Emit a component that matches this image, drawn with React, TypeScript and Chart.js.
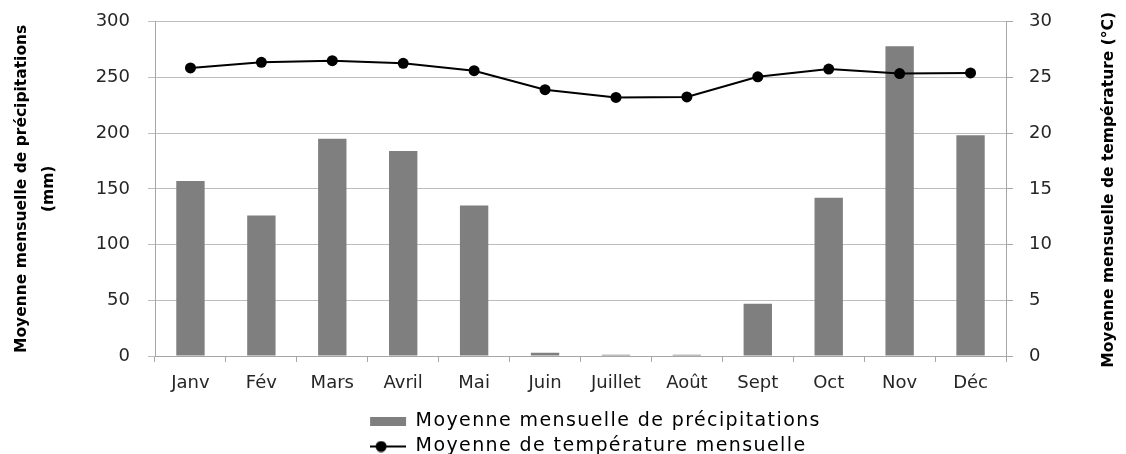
import React, { useEffect, useRef } from "react";
import { Chart, registerables } from "chart.js";

Chart.register(...registerables);

const months = ["Janv", "Fév", "Mars", "Avril", "Mai", "Juin", "Juillet", "Août", "Sept", "Oct", "Nov", "Déc"];
const precipitation = [157, 126, 195, 184, 135, 3, 1.2, 1.2, 47, 142, 278, 198];
const temperature = [25.85, 26.35, 26.5, 26.27, 25.6, 23.9, 23.2, 23.25, 25.05, 25.75, 25.35, 25.4];
const seriesLabels = ["Moyenne mensuelle de précipitations", "Moyenne de température mensuelle"];
const leftAxisTitle = ["Moyenne mensuelle de précipitations", "(mm)"];
const rightAxisTitle = "Moyenne mensuelle de température (°C)";

const FONT = "DejaVu Sans";
const GRID = "#bdbdbd";
const AXIS = "#a6a6a6";
const BAR = "#7f7f7f";

function makeLineMarker(): HTMLCanvasElement {
  const c = document.createElement("canvas");
  c.width = 36;
  c.height = 12;
  const g = c.getContext("2d")!;
  g.strokeStyle = "#000";
  g.lineWidth = 2;
  g.beginPath();
  g.moveTo(0, 6);
  g.lineTo(36, 6);
  g.stroke();
  g.fillStyle = "#000";
  g.beginPath();
  g.arc(11, 6, 5.5, 0, Math.PI * 2);
  g.fill();
  return c;
}

const rightTitlePlugin = {
  id: "rightTitle",
  afterDraw(chart: any) {
    const { ctx, chartArea } = chart;
    ctx.save();
    ctx.font = `bold 15.5px "${FONT}"`;
    ctx.fillStyle = "#000";
    ctx.textAlign = "center";
    ctx.textBaseline = "middle";
    ctx.translate(chart.width - 17, (chartArea.top + chartArea.bottom) / 2 + 1);
    ctx.rotate(-Math.PI / 2);
    ctx.fillText(rightAxisTitle, 0, 0);
    ctx.restore();
  },
};

// Lays the legend out as two stacked rows, left edges aligned, as in the reference.
const legendRowsPlugin = {
  id: "legendRows",
  beforeLayout(chart: any) {
    const lg = chart.legend;
    if (!lg || lg._rowsPatched) return;
    lg._rowsPatched = true;
    const origFitRows = lg._fitRows;
    lg._fitRows = function (...args: any[]) {
      const mw = this.maxWidth;
      this.maxWidth = 480;
      const h = origFitRows.apply(this, args);
      this.maxWidth = mw;
      const m = Math.max(...this.lineWidths);
      this.lineWidths = this.lineWidths.map(() => m - 30);
      return h;
    };
    const spaced = (name: string) => {
      const orig = lg[name];
      lg[name] = function (...args: any[]) {
        const ctx = this.ctx;
        const prev = ctx.letterSpacing;
        ctx.letterSpacing = "1.4px";
        try {
          return orig.apply(this, args);
        } finally {
          ctx.letterSpacing = prev;
        }
      };
    };
    spaced("fit");
    spaced("draw");
  },
};

export default function App() {
  const ref = useRef<HTMLCanvasElement | null>(null);

  useEffect(() => {
    if (!ref.current) return;
    const lineMarker = makeLineMarker();
    const chart = new Chart(ref.current, {
      type: "bar",
      data: {
        labels: months,
        datasets: [
          {
            type: "bar",
            label: seriesLabels[0],
            data: precipitation,
            backgroundColor: BAR,
            borderWidth: 0,
            yAxisID: "y",
            order: 2,
            categoryPercentage: 1,
            barPercentage: 0.4,
          } as any,
          {
            type: "line",
            label: seriesLabels[1],
            data: temperature,
            borderColor: "#000",
            backgroundColor: "#000",
            borderWidth: 2,
            pointRadius: 5.5,
            pointBackgroundColor: "#000",
            pointBorderColor: "#000",
            pointBorderWidth: 0,
            tension: 0,
            yAxisID: "y1",
            order: 1,
          } as any,
        ],
      },
      options: {
        animation: false,
        responsive: true,
        maintainAspectRatio: false,
        layout: { padding: { top: 21.7, left: 0, right: 0, bottom: 0 } },
        scales: {
          x: {
            grid: {
              display: true,
              drawOnChartArea: false,
              drawTicks: true,
              tickLength: 6,
              color: AXIS,
              offset: true,
            },
            border: { color: AXIS },
            ticks: {
              font: { family: FONT, size: 18 },
              color: "#262626",
              padding: 11,
              maxRotation: 0,
              autoSkip: false,
            },
            afterFit: (s: any) => {
              s.height = 50;
            },
          },
          y: {
            position: "left",
            min: 0,
            max: 300,
            ticks: {
              stepSize: 50,
              padding: 18,
              font: { family: FONT, size: 18, lineHeight: 0.3 },
              color: "#262626",
            },
            grid: { color: GRID, tickLength: 7 },
            border: { color: AXIS },
            title: {
              display: true,
              text: leftAxisTitle,
              font: { family: FONT, weight: "bold", size: 15.5, lineHeight: 1.75 },
              color: "#000",
              padding: { top: 8, bottom: 0 },
            },
            afterFit: (s: any) => {
              s.width = 155;
            },
          },
          y1: {
            position: "right",
            min: 0,
            max: 30,
            ticks: {
              stepSize: 5,
              padding: 16,
              font: { family: FONT, size: 18, lineHeight: 0.3 },
              color: "#262626",
            },
            grid: { drawOnChartArea: false, tickLength: 7, color: AXIS },
            border: { color: AXIS },
            afterFit: (s: any) => {
              s.width = 120;
            },
          },
        },
        plugins: {
          legend: {
            position: "bottom",
            fullSize: false,
            maxHeight: 48,
            labels: {
              font: { family: FONT, size: 19 },
              color: "#000",
              usePointStyle: true,
              pointStyleWidth: 36,
              boxHeight: 9,
              padding: 6,
              generateLabels: (c: any) => {
                const items = (Chart.defaults.plugins.legend.labels as any).generateLabels(c);
                return items
                  .sort((a: any, b: any) => a.datasetIndex - b.datasetIndex)
                  .map((it: any) =>
                    it.datasetIndex === 0
                      ? { ...it, pointStyle: "rect", fillStyle: BAR, strokeStyle: BAR, lineWidth: 0 }
                      : { ...it, pointStyle: lineMarker, lineWidth: 0 }
                  );
              },
            },
          },
          tooltip: { enabled: false },
        },
      } as any,
      plugins: [rightTitlePlugin, legendRowsPlugin],
    });
    return () => chart.destroy();
  }, []);

  return (
    <div style={{ position: "fixed", left: 0, top: 0, width: 1126, height: 454, background: "#fff" }}>
      <canvas ref={ref} />
    </div>
  );
}
